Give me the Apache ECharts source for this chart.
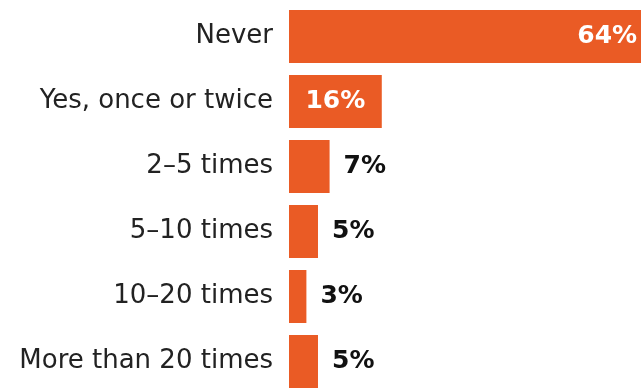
<!DOCTYPE html>
<html><head><meta charset="utf-8">
<script src="https://cdn.jsdelivr.net/npm/echarts@6/dist/echarts.min.js"></script>
<style>html,body{margin:0;padding:0;background:#fff}#c{width:641px;height:390px}</style>
</head><body><div id="c"></div>
<script>
const categories = ["Never", "Yes, once or twice", "2–5 times", "5–10 times", "10–20 times", "More than 20 times"];
const values = [64, 16, 7, 5, 3, 5];
const labelPositions = ["insideRight", "inside", "right", "right", "right", "right"];

const chart = echarts.init(document.getElementById('c'));
const data = values.map((v, i) => {
  const pos = labelPositions[i];
  const inside = pos !== 'right';
  return {
    value: v,
    label: {
      position: pos,
      color: inside ? '#ffffff' : '#111111',
      distance: pos === 'insideRight' ? 23 : 14
    }
  };
});
chart.setOption({
  animation: false,
  grid: { left: 289, right: 0, top: 4, height: 390, outerBoundsMode: 'none' },
  xAxis: { type: 'value', min: 0, max: 60.7, show: false },
  yAxis: {
    type: 'category', data: categories, inverse: true,
    axisLine: { show: false }, axisTick: { show: false }, splitLine: { show: false },
    axisLabel: { color: '#222', fontFamily: 'DejaVu Sans', fontSize: 26, margin: 16 }
  },
  series: [{
    type: 'bar', data: data, barWidth: 53, clip: false,
    itemStyle: { color: '#EA5B25' },
    label: { show: true, formatter: '{c}%', fontFamily: 'DejaVu Sans', fontWeight: 'bold', fontSize: 25 }
  }]
});
</script></body></html>
